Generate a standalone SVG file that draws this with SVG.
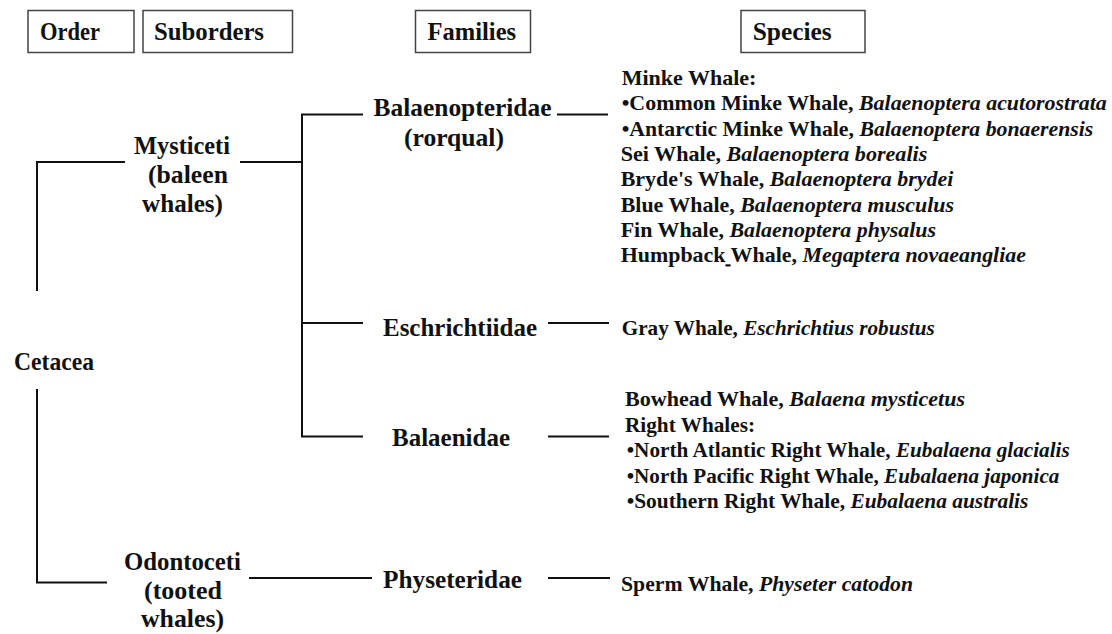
<svg xmlns="http://www.w3.org/2000/svg" width="1112" height="634" viewBox="0 0 1112 634">
<style>
  text { font-family: "Liberation Serif", "Times New Roman", serif; font-weight: bold; fill: #111; }
  .hdr { font-size: 24.5px; }
  .node { font-size: 25px; }
  .sp { font-size: 22px; }
  .it { font-style: italic; }
  .box { fill: #fff; stroke: #444; stroke-width: 1.5; }
  .conn path { fill: none; stroke: #111; stroke-width: 2; }
</style>
<rect width="1112" height="634" fill="#fff"/>

<g id="headers">
  <g id="hdr-order"><rect class="box" x="28" y="10.5" width="106" height="42"/><text class="hdr" x="40" y="40" textLength="60" lengthAdjust="spacingAndGlyphs">Order</text></g>
  <g id="hdr-suborders"><rect class="box" x="143" y="10.5" width="149.5" height="42"/><text class="hdr" x="154" y="40" textLength="110" lengthAdjust="spacingAndGlyphs">Suborders</text></g>
  <g id="hdr-families"><rect class="box" x="415.5" y="10.5" width="115" height="42"/><text class="hdr" x="427.5" y="40" textLength="88.6" lengthAdjust="spacingAndGlyphs">Families</text></g>
  <g id="hdr-species"><rect class="box" x="741" y="10.5" width="124" height="42"/><text class="hdr" x="752.7" y="40" textLength="79" lengthAdjust="spacingAndGlyphs">Species</text></g>
</g>

<g id="connectors" class="conn">
  <path d="M37,291 V162 H125"/>
  <path d="M240,162 H302"/>
  <path d="M363,114.5 H302 V436.5 H363"/>
  <path d="M302,323 H363"/>
  <path d="M37,389 V582.5 H107"/>
  <path d="M249,578 H372"/>
  <path d="M557,114.5 H608"/>
  <path d="M548,323 H609"/>
  <path d="M548,436.5 H609"/>
  <path d="M548,578 H610"/>
</g>

<g id="node-cetacea"><text class="node" x="14" y="370" textLength="80" lengthAdjust="spacingAndGlyphs">Cetacea</text></g>

<g id="node-mysticeti">
  <text class="node" x="134" y="154" textLength="96" lengthAdjust="spacingAndGlyphs">Mysticeti</text>
  <text class="node" x="148" y="183" textLength="80" lengthAdjust="spacingAndGlyphs">(baleen</text>
  <text class="node" x="142" y="212" textLength="81" lengthAdjust="spacingAndGlyphs">whales)</text>
</g>

<g id="node-odontoceti">
  <text class="node" x="124" y="570" textLength="117" lengthAdjust="spacingAndGlyphs">Odontoceti</text>
  <text class="node" x="144" y="599" textLength="78" lengthAdjust="spacingAndGlyphs">(tooted</text>
  <text class="node" x="141" y="627" textLength="83" lengthAdjust="spacingAndGlyphs">whales)</text>
</g>

<g id="node-balaenopteridae">
  <text class="node" x="373.5" y="116" textLength="178" lengthAdjust="spacingAndGlyphs">Balaenopteridae</text>
  <text class="node" x="404" y="145.5" textLength="100" lengthAdjust="spacingAndGlyphs">(rorqual)</text>
</g>

<g id="node-eschrichtiidae"><text class="node" x="383" y="336" textLength="154" lengthAdjust="spacingAndGlyphs">Eschrichtiidae</text></g>
<g id="node-balaenidae"><text class="node" x="392" y="446" textLength="118" lengthAdjust="spacingAndGlyphs">Balaenidae</text></g>
<g id="node-physeteridae"><text class="node" x="383" y="588" textLength="139" lengthAdjust="spacingAndGlyphs">Physeteridae</text></g>

<g id="species-balaenopteridae">
  <text class="sp" x="621.7" y="85">Minke Whale:</text>
  <text class="sp" x="621.7" y="110.3" textLength="485" lengthAdjust="spacingAndGlyphs">•Common Minke Whale, <tspan class="it">Balaenoptera acutorostrata</tspan></text>
  <text class="sp" x="621.7" y="135.6" textLength="471.6" lengthAdjust="spacingAndGlyphs">•Antarctic Minke Whale, <tspan class="it">Balaenoptera bonaerensis</tspan></text>
  <text class="sp" x="620.7" y="161" textLength="306.6" lengthAdjust="spacingAndGlyphs">Sei Whale, <tspan class="it">Balaenoptera borealis</tspan></text>
  <text class="sp" x="620.7" y="186.3" textLength="332.6" lengthAdjust="spacingAndGlyphs">Bryde's Whale, <tspan class="it">Balaenoptera brydei</tspan></text>
  <text class="sp" x="620.7" y="211.6" textLength="333.3" lengthAdjust="spacingAndGlyphs">Blue Whale, <tspan class="it">Balaenoptera musculus</tspan></text>
  <text class="sp" x="620.7" y="237" textLength="315.3" lengthAdjust="spacingAndGlyphs">Fin Whale, <tspan class="it">Balaenoptera physalus</tspan></text>
  <text class="sp" x="620.7" y="262.3" textLength="405.3" lengthAdjust="spacingAndGlyphs">Humpback<tspan text-decoration="underline"> </tspan>Whale, <tspan class="it">Megaptera novaeangliae</tspan></text>
</g>

<g id="species-eschrichtiidae">
  <text class="sp" x="621.7" y="335" textLength="313" lengthAdjust="spacingAndGlyphs">Gray Whale, <tspan class="it">Eschrichtius robustus</tspan></text>
</g>

<g id="species-balaenidae">
  <text class="sp" x="625" y="406" textLength="340" lengthAdjust="spacingAndGlyphs">Bowhead Whale, <tspan class="it">Balaena mysticetus</tspan></text>
  <text class="sp" x="625" y="432" textLength="130" lengthAdjust="spacingAndGlyphs">Right Whales:</text>
  <text class="sp" x="626.7" y="457" textLength="443" lengthAdjust="spacingAndGlyphs">•North Atlantic Right Whale, <tspan class="it">Eubalaena glacialis</tspan></text>
  <text class="sp" x="626.7" y="482.5" textLength="432.7" lengthAdjust="spacingAndGlyphs">•North Pacific Right Whale, <tspan class="it">Eubalaena japonica</tspan></text>
  <text class="sp" x="626.7" y="508" textLength="401.7" lengthAdjust="spacingAndGlyphs">•Southern Right Whale, <tspan class="it">Eubalaena australis</tspan></text>
</g>

<g id="species-physeteridae">
  <text class="sp" x="621" y="591" textLength="292" lengthAdjust="spacingAndGlyphs">Sperm Whale, <tspan class="it">Physeter catodon</tspan></text>
</g>
</svg>
